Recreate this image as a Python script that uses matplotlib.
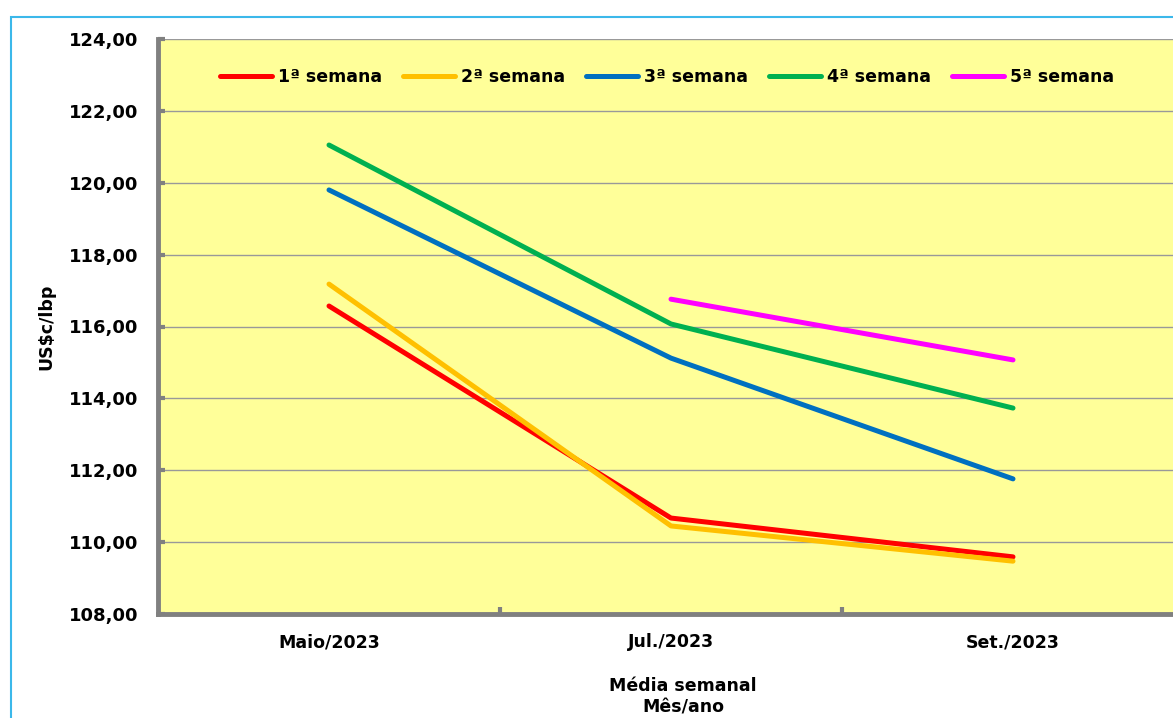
import matplotlib
matplotlib.use("Agg")
import matplotlib.pyplot as plt
from matplotlib.patches import Rectangle

categories = ["Maio/2023", "Jul./2023", "Set./2023"]
series_names = ["1ª semana", "2ª semana", "3ª semana", "4ª semana", "5ª semana"]
sem1 = [116.57, 110.67, 109.59]
sem2 = [117.18, 110.45, 109.47]
sem3 = [119.80, 115.12, 111.76]
sem4 = [121.05, 116.07, 113.73]
sem5 = [None, 116.76, 115.07]
y_ticks = [108, 110, 112, 114, 116, 118, 120, 122, 124]

colors = ["#FF0000", "#FFC000", "#0070C0", "#00B050", "#FF00FF"]

plt.rcParams['font.family'] = ['DejaVu Sans']
plt.rcParams['font.weight'] = 'bold'

fig = plt.figure(figsize=(11.73, 7.18), dpi=100)
fig.patch.set_facecolor("white")
ax = fig.add_axes([158/1173, 1-614/718, 1026/1173, 575/718])
ax.set_facecolor("#FFFF99")

xs = list(range(len(categories)))
for name, vals, c in zip(series_names, [sem1, sem2, sem3, sem4, sem5], colors):
    px = [x for x, v in zip(xs, vals) if v is not None]
    py = [v for v in vals if v is not None]
    ax.plot(px, py, color=c, lw=3.6, solid_capstyle='round', solid_joinstyle='round', label=name)

ax.set_xlim(-0.5, 2.5)
ax.set_ylim(108, 124)
ax.set_yticks(y_ticks)
ax.set_yticklabels([f"{v:.2f}".replace('.', ',') for v in y_ticks], fontsize=13, fontweight='bold')
ax.set_xticks(xs)
ax.set_xticklabels(categories, fontsize=12.5, fontweight='bold')
ax.set_xticks([0.5, 1.5], minor=True)
ax.tick_params(axis='x', which='major', length=0, pad=14)
ax.tick_params(axis='x', which='minor', direction='in', length=5, width=3, color='#808080')
ax.tick_params(axis='y', direction='in', length=5, width=3, color='#808080', pad=14)
ax.yaxis.grid(True, color='#999999', lw=1.0)
ax.set_axisbelow(True)
for s in ['top', 'right']:
    ax.spines[s].set_visible(False)
for s in ['left', 'bottom']:
    ax.spines[s].set_color('#808080')
    ax.spines[s].set_linewidth(3.5)

ax.set_ylabel("US$c/lbp", fontsize=12.5, fontweight='bold')
ax.yaxis.set_label_coords(-0.1, 0.5)
fig.text(683/1173, 1-686/718, "Média semanal", ha='center', va='center', fontsize=12.5, fontweight='bold')
fig.text(683/1173, 1-708/718, "Mês/ano", ha='center', va='center', fontsize=12.5, fontweight='bold')

leg = ax.legend(loc='center left', bbox_to_anchor=(220/1173, 1-77/718), bbox_transform=fig.transFigure,
                ncol=5, frameon=False, fontsize=12.5, handlelength=3.0, handletextpad=0.35,
                columnspacing=1.2, borderaxespad=0, borderpad=0)
for t in leg.get_texts():
    t.set_fontweight('bold')

fig.add_artist(Rectangle((11/1173, -0.05), 1.2, 1-17/718+0.05, transform=fig.transFigure,
                         fill=False, edgecolor='#3BB8EA', lw=1.5))

fig.savefig("out.png", dpi=100)
